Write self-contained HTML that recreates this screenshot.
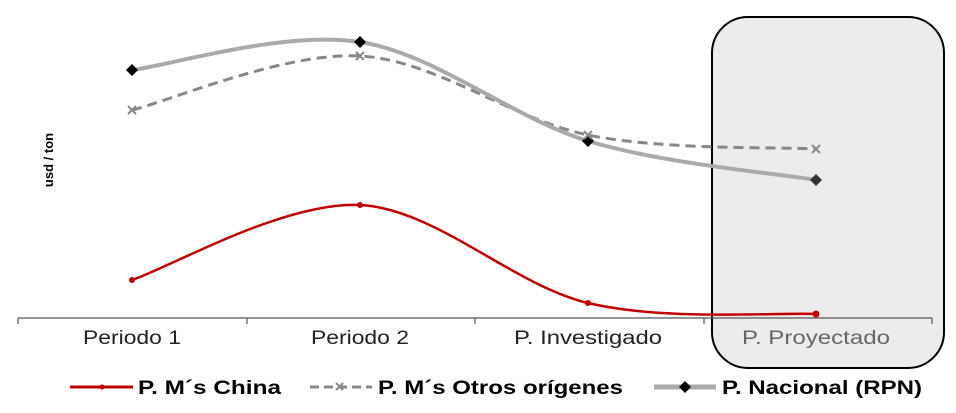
<!DOCTYPE html>
<html><head><meta charset="utf-8"><style>
body{margin:0;background:#fff;}
svg{display:block;font-family:"Liberation Sans",Arial,sans-serif;}
</style></head><body>
<svg width="956" height="413" viewBox="0 0 956 413">
<rect x="712" y="17" width="232" height="351" rx="36" ry="36" fill="#ececec" stroke="#000" stroke-width="2"/>
<line x1="18" y1="318" x2="932" y2="318" stroke="#555" stroke-width="1.2"/>
<g stroke="#555" stroke-width="1.2">
<line x1="18" y1="318" x2="18" y2="324"/><line x1="247" y1="318" x2="247" y2="324"/>
<line x1="475" y1="318" x2="475" y2="324"/><line x1="704" y1="318" x2="704" y2="324"/>
<line x1="932" y1="318" x2="932" y2="324"/></g>
<g font-size="19" text-anchor="middle" fill="#222" lengthAdjust="spacingAndGlyphs">
<text x="132" y="344" textLength="98" lengthAdjust="spacingAndGlyphs">Periodo 1</text>
<text x="360" y="344" textLength="98" lengthAdjust="spacingAndGlyphs">Periodo 2</text>
<text x="588" y="344" textLength="148" lengthAdjust="spacingAndGlyphs">P. Investigado</text>
<text x="816" y="344" fill="#666" textLength="148" lengthAdjust="spacingAndGlyphs">P. Proyectado</text></g>
<text transform="translate(53,160) rotate(-90)" font-size="13" font-weight="bold" text-anchor="middle">usd / ton</text>
<path d="M132,110 C170,101 284,51.8 360,56 C436,60.2 512,119.5 588,135 C664,150.5 778,146.7 816,149" fill="none" stroke="#888" stroke-width="3" stroke-dasharray="10,6"/>
<path d="M132,70 C170,65.3 284,30.2 360,42 C436,53.8 512,118 588,141 C664,164 778,173.5 816,180" fill="none" stroke="#aaa" stroke-width="4"/>
<path d="M132,280 C170,267.5 284,201.2 360,205 C436,208.8 512,284.8 588,303 C664,321.2 778,312.2 816,314" fill="none" stroke="#c00000" stroke-width="2.5"/>
<g fill="#000"><path d="M132,64 l6,6 -6,6 -6,-6z"/><path d="M360,36 l6,6 -6,6 -6,-6z"/><path d="M588,135 l6,6 -6,6 -6,-6z"/><path d="M816,174 l6,6 -6,6 -6,-6z" fill="#333"/></g>
<g stroke="#888" stroke-width="2"><path d="M128,106l8,8M136,106l-8,8M356,52l8,8M364,52l-8,8M584,131l8,8M592,131l-8,8M812,145l8,8M820,145l-8,8"/></g>
<g fill="#c00000"><circle cx="132" cy="280" r="3"/><circle cx="360" cy="205" r="3"/><circle cx="588" cy="303" r="3"/><circle cx="816" cy="314" r="3.5"/></g>
<g font-size="19" font-weight="bold">
<line x1="70" y1="387" x2="133" y2="387" stroke="#c00000" stroke-width="3"/><circle cx="102" cy="387" r="2.5" fill="#c00000"/>
<text x="138" y="394" textLength="143" lengthAdjust="spacingAndGlyphs">P. M´s China</text>
<line x1="310" y1="387" x2="372" y2="387" stroke="#888" stroke-width="3" stroke-dasharray="9,5"/><path d="M336,383l7,7M343,383l-7,7" stroke="#888" stroke-width="2"/>
<text x="378" y="394" textLength="245" lengthAdjust="spacingAndGlyphs">P. M´s Otros orígenes</text>
<line x1="654" y1="387" x2="716" y2="387" stroke="#aaa" stroke-width="5"/><path d="M685,381l6,6-6,6-6,-6z" fill="#000"/>
<text x="722" y="394" textLength="200" lengthAdjust="spacingAndGlyphs">P. Nacional (RPN)</text></g>
</svg>
</body></html>
